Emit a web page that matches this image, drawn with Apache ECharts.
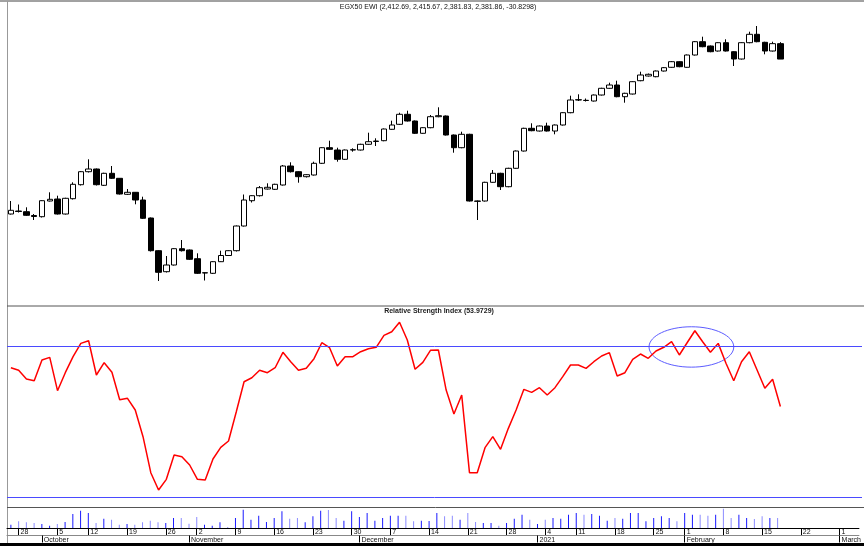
<!DOCTYPE html>
<html><head><meta charset="utf-8">
<script src="https://cdn.jsdelivr.net/npm/echarts@6/dist/echarts.min.js"></script>
<style>html,body{margin:0;padding:0;background:#fff}#c{width:864px;height:546px}</style>
</head><body><div id="c"></div>
<script>
const seriesName = 'EGX50 EWI';
const rsiName = 'Relative Strength Index';
const dates = [
'2020-09-27','2020-09-28','2020-09-29','2020-09-30','2020-10-01',
'2020-10-04','2020-10-05','2020-10-07','2020-10-08',
'2020-10-11','2020-10-12','2020-10-13','2020-10-14','2020-10-15',
'2020-10-18','2020-10-19','2020-10-20','2020-10-21','2020-10-22',
'2020-10-25','2020-10-26','2020-10-27','2020-10-28',
'2020-11-01','2020-11-02','2020-11-03','2020-11-04','2020-11-05',
'2020-11-08','2020-11-09','2020-11-10','2020-11-11','2020-11-12',
'2020-11-15','2020-11-16','2020-11-17','2020-11-18','2020-11-19',
'2020-11-22','2020-11-23','2020-11-24','2020-11-25','2020-11-26',
'2020-11-29','2020-11-30','2020-12-01','2020-12-02','2020-12-03',
'2020-12-06','2020-12-07','2020-12-08','2020-12-09','2020-12-10',
'2020-12-13','2020-12-14','2020-12-15','2020-12-16','2020-12-17',
'2020-12-20','2020-12-21','2020-12-22','2020-12-23','2020-12-24',
'2020-12-27','2020-12-28','2020-12-29','2020-12-30','2020-12-31',
'2021-01-03','2021-01-04','2021-01-05','2021-01-06',
'2021-01-10','2021-01-11','2021-01-12','2021-01-13','2021-01-14',
'2021-01-17','2021-01-18','2021-01-19','2021-01-20','2021-01-21',
'2021-01-24','2021-01-26','2021-01-27','2021-01-28',
'2021-01-31','2021-02-01','2021-02-02','2021-02-03','2021-02-04',
'2021-02-07','2021-02-08','2021-02-09','2021-02-10','2021-02-11',
'2021-02-14','2021-02-15','2021-02-16','2021-02-17',
'2021-02-18','2021-02-21','2021-02-22','2021-02-23','2021-02-24','2021-02-25',
'2021-02-28','2021-03-01','2021-03-02','2021-03-03'
];
const monthNames = ['January','February','March','April','May','June','July','August','September','October','November','December'];
const openP = [
2072,2078,2076.6,2069,2066.6,2098,2102,2072,2102.6,2130.6,
2156.6,2162,2129.4,2153.4,2143.4,2111.4,2115.4,2100,2064,1998.6,
1956.6,1970,2002.6,2000,1982.6,1954,1953.4,1976.6,1989,1998.6,
2048,2098.6,2108.6,2122,2121.4,2130,2168,2156.6,2146.6,2150,
2173.4,2204.6,2200,2181.4,2200,2200,2211.4,2217,2218.6,2241.4,
2251.4,2271.4,2258,2233.4,2244.6,2266.6,2268,2230,2204.6,2231.4,
2098,2098,2135.4,2153.4,2126.6,2163.4,2198,2243.4,2238,2248,
2238,2250,2274.6,2300,2299.4,2298,2310,2323.4,2330,2306.6,
2312,2338.6,2348,2346.6,2358,2365.4,2376.6,2365.4,2390,2416.6,
2408,2398,2414.6,2396.6,2382,2414.6,2431.4,2415.4,2398,2412.69
];
const closeP = [
2079.4,2077,2069.4,2067,2098.6,2101.4,2072,2103.4,2131.4,2156.6,
2162,2130.6,2153.4,2143.4,2112,2115.4,2100,2063.4,1998.6,1955.4,
1970,2002.6,1998.6,1981.4,1953.4,1954.6,1976.6,1989,1998.6,2048,
2100,2108.6,2124.6,2125.4,2131.4,2168,2156.6,2146.6,2150.6,2173.4,
2204.6,2201.4,2181.4,2200,2200.6,2211.4,2216.6,2218,2242,2250,
2271.4,2258,2233.4,2244.6,2266.6,2268.6,2230,2204.6,2231.4,2098,
2097.4,2135.4,2153.4,2126.6,2163.4,2198,2243.4,2238.6,2248,2238,
2250,2274.6,2300,2300.6,2299,2310,2323.4,2330,2306.6,2313.4,
2336.6,2350,2351.4,2358,2364.6,2376.6,2366.6,2390,2416.6,2406.6,
2396.6,2414.6,2398,2382,2414.6,2431.4,2416.6,2398,2412.6898,2381.86
];
const lowP = [
2071,2075,2068,2060,2065,2097,2071,2071,2101,2129,
2155,2129,2128,2142,2111,2110,2091.4,2062,1997,1938,
1955,1969,1997,1980,1952,1939,1952,1976,1988,1997,
2047,2095,2107,2121,2120,2129,2155,2134.6,2145,2149,
2172,2200,2176.6,2180,2196.6,2199,2210.5,2208,2217.5,2240.5,
2250,2257,2232,2232.5,2243.5,2265.5,2229,2194.6,2203.5,2097,
2060,2097,2134.5,2120,2125.5,2162.5,2197,2237.5,2237,2237,
2231.4,2249,2273.5,2298,2297,2297,2309,2322.5,2305.5,2294.6,
2311,2337.5,2347,2345.5,2357,2364.5,2365.5,2364.5,2389,2405.5,
2395.5,2397,2397,2368,2381,2413.5,2415.5,2391.4,2397,2381.83
];
const highP = [
2098,2091,2085.4,2072,2099.5,2115.4,2108.6,2104.5,2135.4,2158,
2181.4,2163,2154.5,2168,2144,2122,2116,2106.6,2065,1999.5,
1988,2003.5,2020,2001,1993.4,1955.5,1977.5,1998.6,1999.5,2049,
2111,2109.5,2128,2133.4,2132.5,2170,2175.4,2157.5,2151.5,2176.6,
2205.5,2218.6,2204.6,2201,2203.4,2212.5,2234.6,2223.4,2243,2258.6,
2274.6,2278.6,2259,2245.5,2270,2285.4,2269,2231,2236.6,2232.5,
2099,2136.5,2160,2154.5,2164.5,2199,2244.5,2253.4,2249,2254.6,
2251,2275.5,2308.6,2311.4,2303,2311,2324.5,2334.6,2338.6,2314.5,
2337.5,2356.6,2353,2359,2366,2378,2377.5,2391,2418,2426.6,
2409,2415.5,2421.4,2397.5,2415.5,2436.6,2448,2416.5,2416.6,2415.67
];
const rsiValues = [
64.25,63.56,61.26,60.81,66.29,67.0,58.16,62.93,67.17,70.7,
71.4,62.32,65.58,63.03,55.78,56.15,53.05,45.98,36.44,31.85,
34.68,41.13,40.68,38.48,34.68,34.5,40.07,43.16,44.83,52.6,
60.54,61.6,63.56,62.93,64.25,68.33,65.84,63.56,64.09,66.64,
70.87,69.55,64.7,67.17,67.17,68.49,69.28,69.66,72.83,73.79,
76.28,71.59,63.83,65.68,68.9,68.94,58.34,51.99,57.02,36.44,
36.44,43.07,45.98,42.63,48.19,53.05,58.52,57.73,58.96,57.02,
58.96,61.88,64.97,64.97,64.09,65.84,67.35,68.24,62.05,62.93,
66.47,67.88,66.74,68.68,69.66,71.14,67.62,70.87,74.05,71.14,
68.33,70.7,65.42,60.81,65.84,68.49,63.64,58.79,61.18,53.9729
];
const rsiLevels = [70, 30];
const volumeM = [
3.3,6.7,5.7,5,4,2.3,4,6,14,17.3,
15,5,9.3,8.3,3.3,4,3.3,5.7,7.3,5.7,
5,10,10,4.3,11,3.3,2.3,5.7,0.6,10,
18.3,8.3,12.3,6,10,16.7,9.3,10,5.7,11.7,
17.3,18,10,7.3,16.7,11,15,7.3,10,12.3,
12.3,12.3,6.7,7.3,7,15,11.7,12.3,8.3,15,
6,5,5,2.3,5,9.3,13.3,8.3,4,8.3,
10,9.3,13.3,15,13.3,14,12.3,7.3,10,9.3,
15,15,6.7,10,11.7,10,6.7,15,13.3,13.3,
12.3,13.3,19.3,10,13.3,10,9,11.7,10,10
];
// annotation ellipse around the RSI top (category index range, RSI range)
const ellipseIdx = [82.1, 93.0];
const ellipseRsi = [64.4, 75.1];

const FONT = "'Liberation Sans Narrow','Arial Narrow','Liberation Sans',Arial,sans-serif";
function mondayOf(s){const d=new Date(s+'T00:00:00Z');d.setUTCDate(d.getUTCDate()-((d.getUTCDay()+6)%7));return d;}
const isWeekStart = i => i>0 && mondayOf(dates[i]).getTime()!==mondayOf(dates[i-1]).getTime();
const isMonthStart = i => i>0 && dates[i].slice(0,7)!==dates[i-1].slice(0,7);
const monthLabel = s => {const m=+s.slice(5,7);return m===1?s.slice(0,4):monthNames[m-1];};
const fmt2 = v => v.toLocaleString('en-US',{minimumFractionDigits:2,maximumFractionDigits:2});
const n = openP.length;
const chg = closeP[n-1]-closeP[n-2];
const mainTitle = `${seriesName} (${fmt2(openP[n-1])}, ${fmt2(highP[n-1])}, ${fmt2(lowP[n-1])}, ${fmt2(closeP[n-1])}, ${chg.toFixed(4)})`;
const rsiTitle = `${rsiName} (${rsiValues[n-1].toFixed(4)})`;

const candleData = openP.map((o,i)=>[o,closeP[i],lowP[i],highP[i]]);
const volData = volumeM.map((v,i)=>({value:v,itemStyle:{color:(i>0&&closeP[i]<closeP[i-1])?'#8c8cff':'#1a1aff'}}));

const GL=7, GW=855;
const chart = echarts.init(document.getElementById('c'),null,{renderer:'canvas'});
const hiddenX = gi => ({type:'category',gridIndex:gi,data:dates,boundaryGap:true,show:false});
chart.setOption({
  animation:false,
  backgroundColor:'#fff',
  grid:[
    {left:GL,width:GW,top:2,height:303},
    {left:GL,width:GW,top:306,height:201},
    {left:GL,width:GW,top:507,height:21}
  ],
  xAxis:[
    hiddenX(0), hiddenX(1),
    {type:'category',gridIndex:2,data:dates,boundaryGap:true,position:'bottom',
     axisLine:{show:true,lineStyle:{color:'#000',width:1}},
     axisTick:{show:true,alignWithLabel:true,interval:(i)=>isWeekStart(i),length:7,lineStyle:{color:'#000',width:1}},
     axisLabel:{show:true,interval:(i)=>isWeekStart(i),formatter:(v)=>String(mondayOf(v).getUTCDate()),
       align:'left',padding:[0,0,0,2],margin:1,fontSize:7,color:'#111',fontFamily:FONT},
     splitLine:{show:false}},
    {type:'category',gridIndex:2,data:dates,boundaryGap:true,position:'bottom',offset:7.5,
     axisLine:{show:true,lineStyle:{color:'#888',width:1}},
     axisTick:{show:true,alignWithLabel:true,interval:(i)=>isMonthStart(i),length:7,lineStyle:{color:'#000',width:1}},
     axisLabel:{show:true,interval:(i)=>isMonthStart(i),formatter:(v)=>monthLabel(v),
       align:'left',padding:[0,0,0,2],margin:1,fontSize:7,color:'#111',fontFamily:FONT},
     splitLine:{show:false}}
  ],
  yAxis:[
    {type:'value',gridIndex:0,min:1890,max:2496,show:false,splitLine:{show:false}},
    {type:'value',gridIndex:1,min:27.35,max:80.6,show:false,splitLine:{show:false}},
    {type:'value',gridIndex:2,min:0,max:21,show:false,splitLine:{show:false}}
  ],
  series:[
    {type:'candlestick',xAxisIndex:0,yAxisIndex:0,data:candleData,barWidth:6,
     itemStyle:{color:'#fff',color0:'#000',borderColor:'#000',borderColor0:'#000',borderWidth:1}},
    {type:'line',xAxisIndex:1,yAxisIndex:1,data:rsiValues,symbol:'none',
     lineStyle:{color:'#ff0000',width:1.5},
     markLine:{silent:true,symbol:'none',label:{show:false},
       lineStyle:{color:'#4a4aff',width:1,type:'solid'},
       data:rsiLevels.map(v=>({yAxis:v}))}},
    {type:'bar',xAxisIndex:2,yAxisIndex:2,data:volData,barWidth:1}
  ]
});

// annotation ellipse from data coordinates
const p1 = chart.convertToPixel({xAxisIndex:1,yAxisIndex:1},[Math.floor(ellipseIdx[0]),ellipseRsi[0]]);
const p1b = chart.convertToPixel({xAxisIndex:1,yAxisIndex:1},[Math.floor(ellipseIdx[0])+1,ellipseRsi[1]]);
const bw = p1b[0]-p1[0];
const xl = p1[0]+bw*(ellipseIdx[0]-Math.floor(ellipseIdx[0]));
const xr = p1[0]+bw*(ellipseIdx[1]-Math.floor(ellipseIdx[0]));
const yb = p1[1], yt = p1b[1];

chart.setOption({graphic:[
  {type:'line',shape:{x1:0,y1:1,x2:864,y2:1},style:{stroke:'#444',lineWidth:1},silent:true},
  {type:'line',shape:{x1:7.5,y1:1,x2:7.5,y2:543},style:{stroke:'#999',lineWidth:1},silent:true},
  {type:'line',shape:{x1:7,y1:306,x2:864,y2:306},style:{stroke:'#555',lineWidth:1},silent:true},
  {type:'line',shape:{x1:7,y1:507.5,x2:864,y2:507.5},style:{stroke:'#555',lineWidth:1},silent:true},
  {type:'rect',shape:{x:0,y:543,width:864,height:3},style:{fill:'#000'},silent:true},
  {type:'text',x:438,y:4,style:{text:mainTitle,fontSize:7,fontFamily:FONT,fill:'#111',align:'center',verticalAlign:'top'},silent:true},
  {type:'text',x:439,y:308,style:{text:rsiTitle,fontSize:7,fontWeight:'bold',fontFamily:"'Liberation Sans',Arial,sans-serif",fill:'#222',align:'center',verticalAlign:'top'},silent:true},
  {type:'ellipse',shape:{cx:(xl+xr)/2,cy:(yt+yb)/2,rx:(xr-xl)/2,ry:(yb-yt)/2},style:{fill:'none',stroke:'#5c5cff',lineWidth:1},silent:true}
]});
</script></body></html>
